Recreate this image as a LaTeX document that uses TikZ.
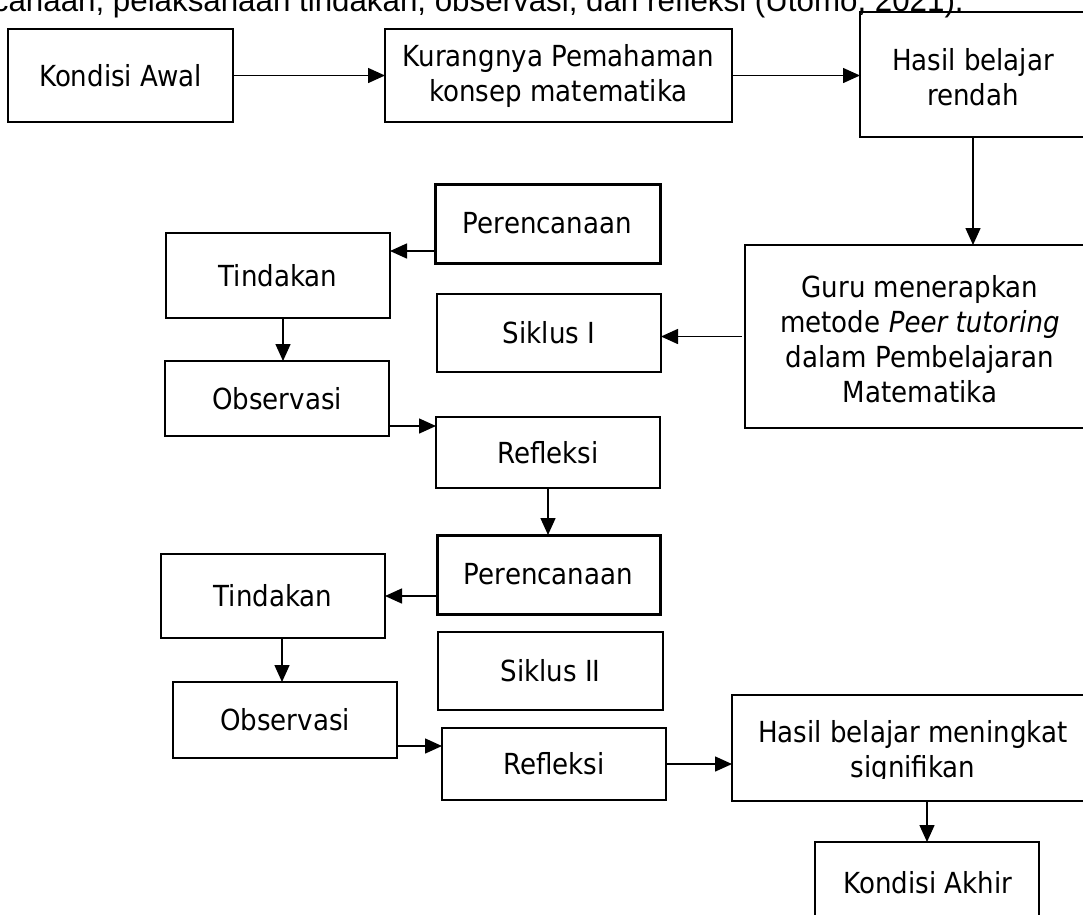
\documentclass[tikz,border=0pt]{standalone}
\usepackage{fontspec}
\setmainfont{DejaVu Sans}[FakeStretch=0.9]
\newfontfamily\topfont{Liberation Sans}
\usetikzlibrary{arrows.meta}
\begin{document}
\begin{tikzpicture}[x=1pt,y=-1pt,
  box/.style={draw, line width=1.8pt, inner sep=0pt, outer sep=0pt, align=center, font=\fontsize{29}{35}\selectfont},
  thickbox/.style={box, line width=3pt},
  txt/.style={inner sep=0pt, align=center, font=\fontsize{29}{35}\selectfont},
  arr/.style={-{Triangle[length=17pt,width=15pt]}, line width=1.5pt}]
\useasboundingbox (0,0) rectangle (1083,914);
\clip (0,0) rectangle (1083,914);

% top cut text line
\node[anchor=base east, inner sep=0pt, font=\topfont\fontsize{31.3}{36}\selectfont] (top) at (964,11) {canaan, pelaksanaan tindakan, observasi, dan refleksi (Utomo, 2021).};

% row 1
\node[box, minimum width=225pt, minimum height=93pt] (A) at (120.5,75.5) {Kondisi Awal};
\node[box, minimum width=347pt, minimum height=93pt] (B) at (558.5,75.5) {Kurangnya Pemahaman\\konsep matematika};
\node[box, minimum width=340pt, minimum height=125pt] (C) at (1030,74.5) {};
\node[txt] (Ct) at (973,77) {Hasil belajar\\rendah};

% Guru
\node[box, minimum width=455pt, minimum height=183pt] (D) at (972.5,336.5) {};
\node[txt] (Dt) at (920,339) {Guru menerapkan\\metode \textit{Peer tutoring}\\dalam Pembelajaran\\Matematika};

% cycle I
\node[thickbox, minimum width=225pt, minimum height=79pt] (P1) at (547.5,223.5) {Perencanaan};
\node[box, minimum width=224pt, minimum height=85pt] (T1) at (278,275.5) {Tindakan};
\node[box, minimum width=224pt, minimum height=78pt] (S1) at (549,333) {Siklus I};
\node[box, minimum width=224pt, minimum height=75pt] (O1) at (277,398.5) {Observasi};
\node[box, minimum width=224pt, minimum height=71pt] (R1) at (548,452.5) {Refleksi};

% cycle II
\node[thickbox, minimum width=223pt, minimum height=79pt] (P2) at (548.5,574.5) {Perencanaan};
\node[box, minimum width=224pt, minimum height=84pt] (T2) at (273,596) {Tindakan};
\node[box, minimum width=225pt, minimum height=78pt] (S2) at (550.5,671) {Siklus II};
\node[box, minimum width=224pt, minimum height=76pt] (O2) at (285,720) {Observasi};
\node[box, minimum width=224pt, minimum height=72pt] (R2) at (554,764) {Refleksi};

% results
\node[box, minimum width=468pt, minimum height=106pt] (H) at (966,748) {};
\begin{scope}
  \clip (733,696) rectangle (1083,778);
  \node[txt] (Ht) at (913,752) {Hasil belajar meningkat\\signifikan};
\end{scope}
\node[box, minimum width=224pt, minimum height=158pt] (K) at (927,921) {};
\node[txt] (Kt) at (928,883) {Kondisi Akhir};

% connectors
\draw[arr] (A.east) -- (A.east -| B.west);
\draw[arr] (B.east) -- (B.east -| C.west);
\draw[arr] (Ct |- C.south) -- (Ct |- D.north);
\draw[arr] ([xshift=-3pt]D.west) -- (D.west -| S1.east);
\draw[arr] ([yshift=-27.5pt]P1.west) -- ([yshift=-27.5pt]P1.west -| T1.east);
\draw[arr] ([xshift=5pt]T1.south) -- ([xshift=5pt]T1.south |- O1.north);
\draw[arr] ([yshift=-27.5pt]O1.east) -- ([yshift=-27.5pt]O1.east -| R1.west);
\draw[arr] (R1.south) -- (R1.south |- P2.north);
\draw[arr] (P2.west |- T2.east) -- (T2.east);
\draw[arr] ([xshift=9pt]T2.south) -- ([xshift=9pt]T2.south |- O2.north);
\draw[arr] ([yshift=-26pt]O2.east) -- ([yshift=-26pt]O2.east -| R2.west);
\draw[arr] (R2.east) -- (R2.east -| H.west);
\draw[arr] (K.north |- H.south) -- (K.north);
\end{tikzpicture}
\end{document}
